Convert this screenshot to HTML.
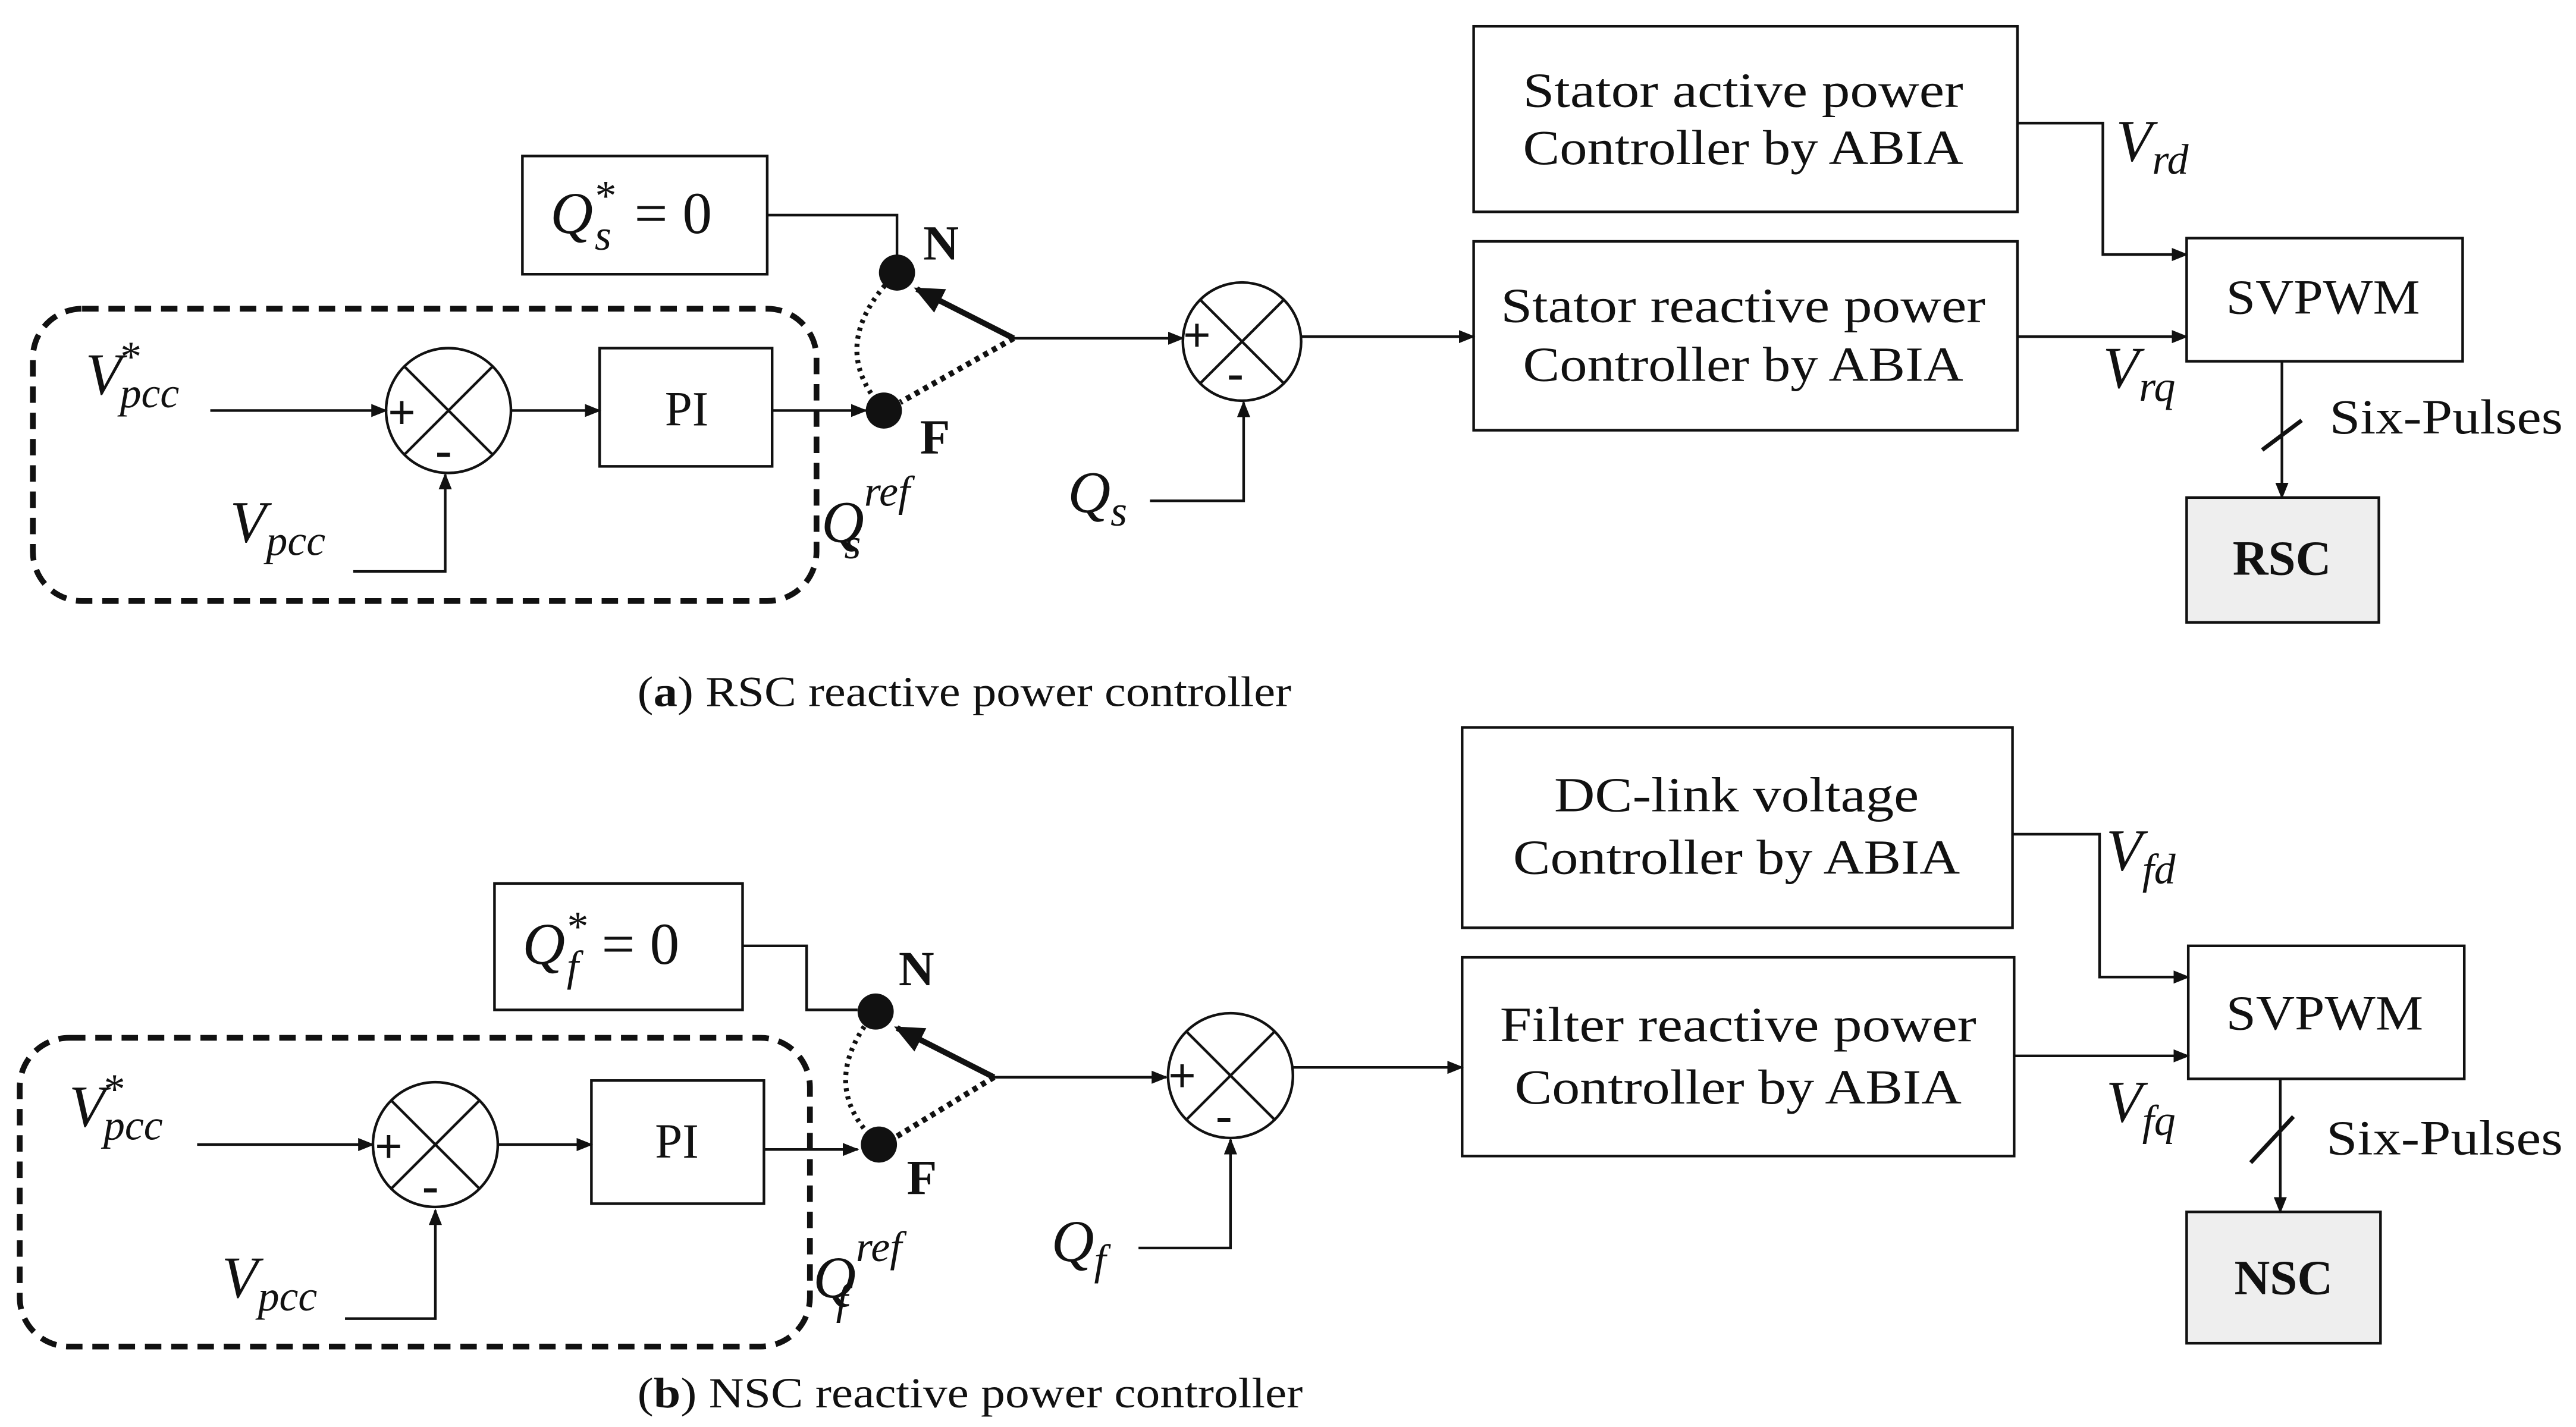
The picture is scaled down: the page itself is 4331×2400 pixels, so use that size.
<!DOCTYPE html>
<html><head><meta charset="utf-8"><style>
html,body{margin:0;padding:0;background:#fff;}
svg{display:block;}
text{font-family:"Liberation Serif",serif;fill:#111;}
.b{font-size:30px;}
.m{font-style:italic;font-size:36px;}
.s{font-style:italic;font-size:26px;}
</style></head><body>
<svg width="4331" height="2400" viewBox="0 0 1568 869" preserveAspectRatio="none" xmlns="http://www.w3.org/2000/svg">
<defs>
<marker id="a" markerWidth="10" markerHeight="8" refX="9" refY="4" orient="auto" markerUnits="userSpaceOnUse"><path d="M0,0 L10,4 L0,8 z" fill="#111"/></marker>
<marker id="ab" markerWidth="20" markerHeight="16" refX="16" refY="8" orient="auto" markerUnits="userSpaceOnUse"><path d="M0,0 L18,8 L0,16 z" fill="#111"/></marker>
</defs>
<g fill="none" stroke="#111" stroke-width="1.6">
<rect x="897" y="16" width="331" height="113"/>
<rect x="897" y="147" width="331" height="115"/>
<rect x="1331" y="145" width="168" height="75"/>
<rect x="1331" y="303" width="117" height="76" fill="#eee"/>
<polyline points="1228,75 1280,75 1280,155 1331,155" marker-end="url(#a)"/>
<line x1="1228" y1="205" x2="1331" y2="205" marker-end="url(#a)"/>
<line x1="1389" y1="220" x2="1389" y2="303" marker-end="url(#a)"/>
<line x1="1377" y1="274" x2="1401" y2="256" stroke-width="2.5"/>
<rect x="318" y="95" width="149" height="72"/>
<polyline points="467,131 546,131 546,160"/>
<rect x="20" y="188" width="477" height="178" rx="30" stroke-width="3.5" stroke-dasharray="10,6"/>
<line x1="128" y1="250" x2="235" y2="250" marker-end="url(#a)"/>
<circle cx="273" cy="250" r="38"/>
<line x1="246" y1="223" x2="300" y2="277"/><line x1="300" y1="223" x2="246" y2="277"/>
<line x1="311" y1="250" x2="365" y2="250" marker-end="url(#a)"/>
<rect x="365" y="212" width="105" height="72"/>
<line x1="470" y1="250" x2="527" y2="250" marker-end="url(#a)"/>
<polyline points="215,348 271,348 271,289" marker-end="url(#a)"/>
<line x1="617" y1="206" x2="558" y2="176" stroke-width="3.5" marker-end="url(#ab)"/>
<line x1="617" y1="206" x2="548" y2="245" stroke-width="3.5" stroke-dasharray="3,3"/>
<path d="M542,170 Q505,210 535,246" stroke-width="3" stroke-dasharray="2,3"/>
<line x1="617" y1="206" x2="720" y2="206" marker-end="url(#a)"/>
<circle cx="756" cy="208" r="36"/>
<line x1="730" y1="182" x2="782" y2="234"/><line x1="782" y1="182" x2="730" y2="234"/>
<line x1="792" y1="205" x2="897" y2="205" marker-end="url(#a)"/>
<polyline points="700,305 757,305 757,245" marker-end="url(#a)"/>
<rect x="890" y="443" width="335" height="122"/>
<rect x="890" y="583" width="336" height="121"/>
<rect x="1332" y="576" width="168" height="81"/>
<rect x="1331" y="738" width="118" height="80" fill="#eee"/>
<polyline points="1225,508 1278,508 1278,595 1332,595" marker-end="url(#a)"/>
<line x1="1226" y1="643" x2="1332" y2="643" marker-end="url(#a)"/>
<line x1="1388" y1="657" x2="1388" y2="738" marker-end="url(#a)"/>
<line x1="1370" y1="708" x2="1396" y2="680" stroke-width="2.5"/>
<rect x="301" y="538" width="151" height="77"/>
<polyline points="452,576 491,576 491,615 522,615"/>
<rect x="12" y="632" width="481" height="188" rx="30" stroke-width="3.5" stroke-dasharray="10,6"/>
<line x1="120" y1="697" x2="227" y2="697" marker-end="url(#a)"/>
<circle cx="265" cy="697" r="38"/>
<line x1="238" y1="670" x2="292" y2="724"/><line x1="292" y1="670" x2="238" y2="724"/>
<line x1="303" y1="697" x2="360" y2="697" marker-end="url(#a)"/>
<rect x="360" y="658" width="105" height="75"/>
<line x1="465" y1="700" x2="522" y2="700" marker-end="url(#a)"/>
<polyline points="210,803 265,803 265,737" marker-end="url(#a)"/>
<line x1="605" y1="656" x2="546" y2="626" stroke-width="3.5" marker-end="url(#ab)"/>
<line x1="605" y1="656" x2="546" y2="692" stroke-width="3.5" stroke-dasharray="3,3"/>
<path d="M529,621 Q500,660 530,692" stroke-width="3" stroke-dasharray="2,3"/>
<line x1="605" y1="656" x2="710" y2="656" marker-end="url(#a)"/>
<circle cx="749" cy="655" r="38"/>
<line x1="722" y1="628" x2="776" y2="682"/><line x1="776" y1="628" x2="722" y2="682"/>
<line x1="787" y1="650" x2="890" y2="650" marker-end="url(#a)"/>
<polyline points="693,760 749,760 749,694" marker-end="url(#a)"/>
</g>
<g fill="#111">
<circle cx="546" cy="166" r="11"/><circle cx="538" cy="250" r="11"/>
<circle cx="533" cy="616" r="11"/><circle cx="535" cy="697" r="11"/>
</g>
<g text-anchor="middle">
<text class="b" x="1061" y="65" textLength="268" lengthAdjust="spacingAndGlyphs">Stator active power</text>
<text class="b" x="1061" y="100" textLength="268" lengthAdjust="spacingAndGlyphs">Controller by ABIA</text>
<text class="b" x="1061" y="196" textLength="295" lengthAdjust="spacingAndGlyphs">Stator reactive power</text>
<text class="b" x="1061" y="232" textLength="268" lengthAdjust="spacingAndGlyphs">Controller by ABIA</text>
<text class="b" x="1414" y="191" textLength="118" lengthAdjust="spacingAndGlyphs">SVPWM</text>
<text class="b" x="1389" y="350" font-weight="bold">RSC</text>
<text class="b" x="418" y="259">PI</text>
<text class="b" x="1057" y="494" textLength="222" lengthAdjust="spacingAndGlyphs">DC-link voltage</text>
<text class="b" x="1057" y="532" textLength="272" lengthAdjust="spacingAndGlyphs">Controller by ABIA</text>
<text class="b" x="1058" y="634" textLength="290" lengthAdjust="spacingAndGlyphs">Filter reactive power</text>
<text class="b" x="1058" y="672" textLength="272" lengthAdjust="spacingAndGlyphs">Controller by ABIA</text>
<text class="b" x="1415" y="627" textLength="120" lengthAdjust="spacingAndGlyphs">SVPWM</text>
<text class="b" x="1390" y="788" font-weight="bold">NSC</text>
<text class="b" x="412" y="705">PI</text>
</g>
<text class="b" x="1418" y="264" textLength="142" lengthAdjust="spacingAndGlyphs">Six-Pulses</text>
<text class="b" x="1416" y="703" textLength="144" lengthAdjust="spacingAndGlyphs">Six-Pulses</text>
<text class="b" x="562" y="158" font-weight="bold">N</text>
<text class="b" x="560" y="276" font-weight="bold">F</text>
<text class="b" x="547" y="600" font-weight="bold">N</text>
<text class="b" x="552" y="727" font-weight="bold">F</text>
<g font-size="30" font-weight="bold" font-family="Liberation Sans,sans-serif">
<text x="236" y="261">+</text><text x="265" y="284">-</text>
<text x="720" y="214">+</text><text x="747" y="237">-</text>
<text x="228" y="708">+</text><text x="257" y="732">-</text>
<text x="711" y="665">+</text><text x="740" y="689">-</text>
</g>
<text class="m" x="335" y="142">Q<tspan class="s" dy="-14">*</tspan><tspan class="s" dx="-12" dy="24">s</tspan><tspan font-style="normal" dy="-10" dx="14">= 0</tspan></text>
<text class="m" x="318" y="587">Q<tspan class="s" dy="-14">*</tspan><tspan class="s" dx="-12" dy="24">f</tspan><tspan font-style="normal" dy="-10" dx="14">= 0</tspan></text>
<text class="m" x="52" y="240">V<tspan class="s" dy="-14" dx="-2">*</tspan><tspan class="s" font-size="32" dx="-12" dy="22">pcc</tspan></text>
<text class="m" x="140" y="330">V<tspan class="s" font-size="32" dy="8">pcc</tspan></text>
<text class="m" x="42" y="686">V<tspan class="s" dy="-14" dx="-2">*</tspan><tspan class="s" font-size="32" dx="-12" dy="22">pcc</tspan></text>
<text class="m" x="135" y="790">V<tspan class="s" font-size="32" dy="8">pcc</tspan></text>
<text class="m" x="500" y="330">Q<tspan class="s" font-size="30" dy="-22">ref</tspan><tspan class="s" font-size="30" dx="-40" dy="32">s</tspan></text>
<text class="m" x="495" y="790">Q<tspan class="s" font-size="30" dy="-22">ref</tspan><tspan class="s" font-size="30" dx="-40" dy="32">f</tspan></text>
<text class="m" x="650" y="312">Q<tspan class="s" font-size="30" dy="8">s</tspan></text>
<text class="m" x="640" y="768">Q<tspan class="s" font-size="30" dy="8">f</tspan></text>
<text class="m" x="1288" y="98">V<tspan class="s" font-size="28" dy="8">rd</tspan></text>
<text class="m" x="1280" y="236">V<tspan class="s" font-size="28" dy="8">rq</tspan></text>
<text class="m" x="1282" y="530">V<tspan class="s" font-size="28" dy="8">fd</tspan></text>
<text class="m" x="1282" y="683">V<tspan class="s" font-size="28" dy="8">fq</tspan></text>
<text x="388" y="430" font-size="26" textLength="398" lengthAdjust="spacingAndGlyphs">(<tspan font-weight="bold">a</tspan>) RSC reactive power controller</text>
<text x="388" y="857" font-size="26" textLength="405" lengthAdjust="spacingAndGlyphs">(<tspan font-weight="bold">b</tspan>) NSC reactive power controller</text>
</svg>
</body></html>
